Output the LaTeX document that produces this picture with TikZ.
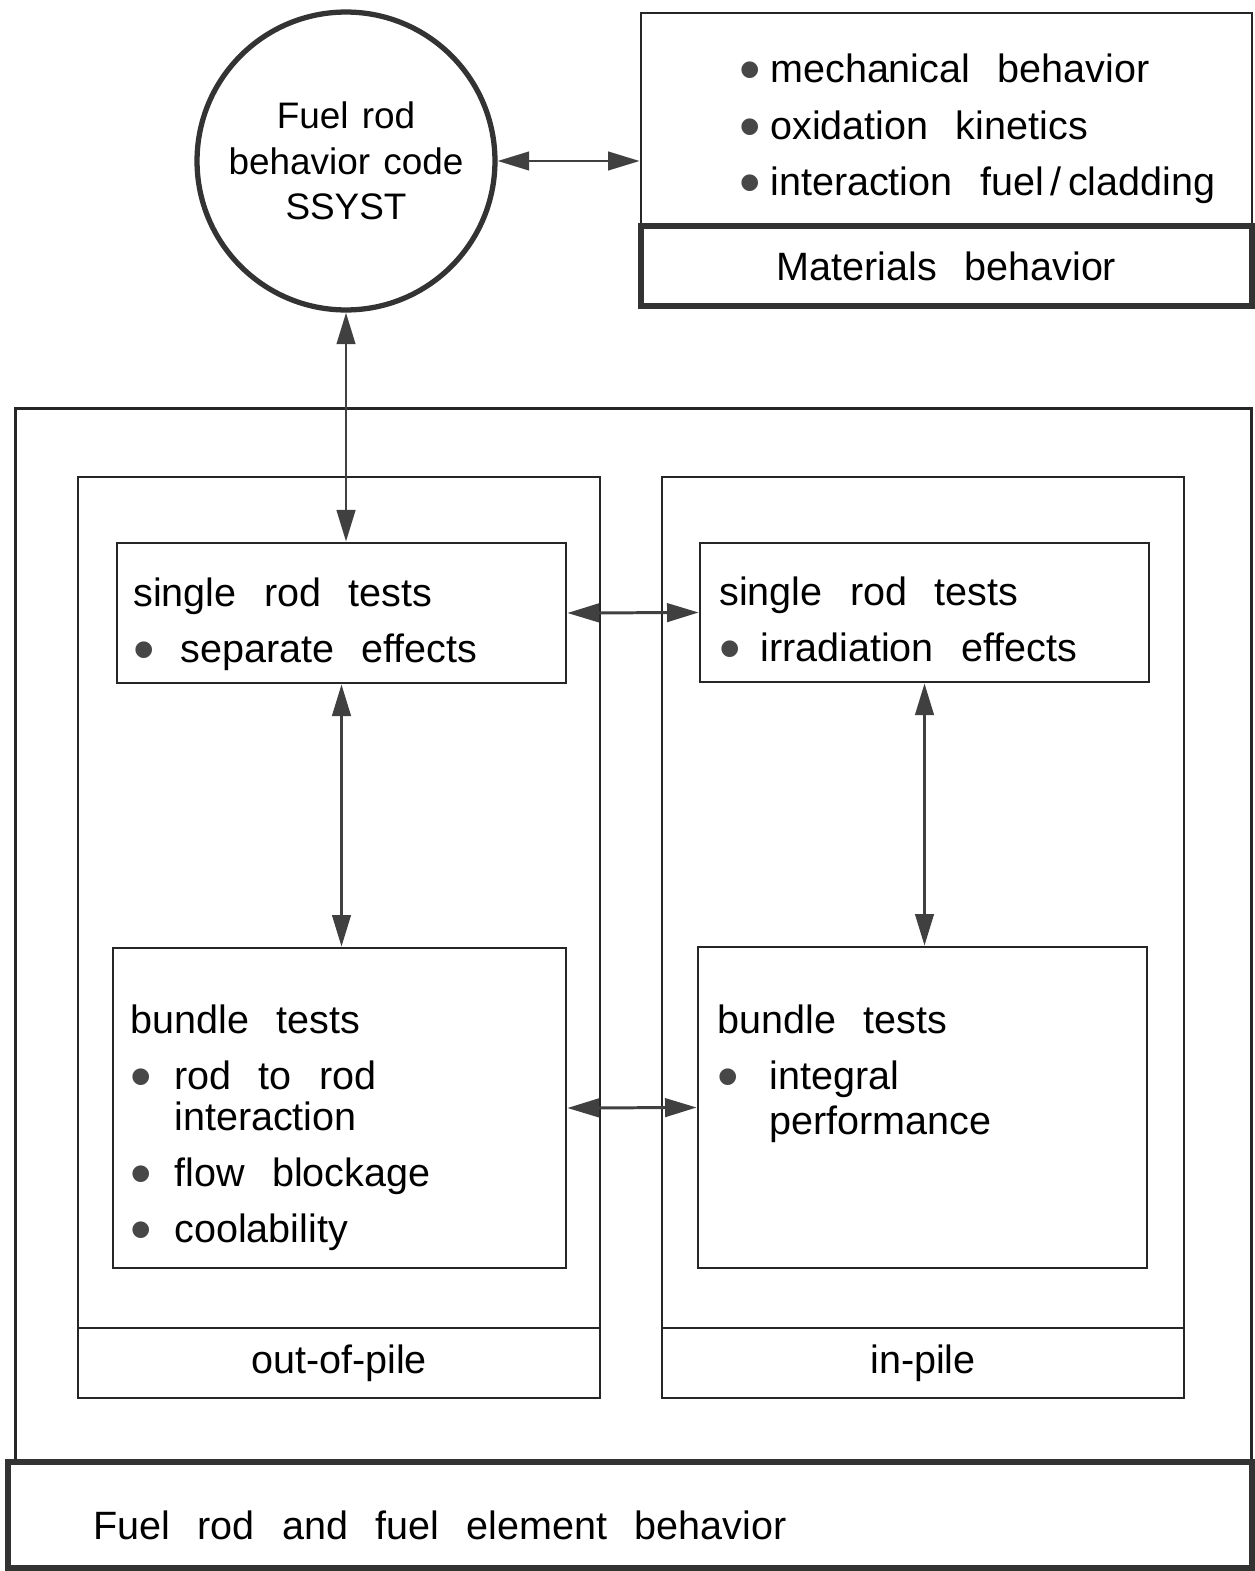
\documentclass[tikz,border=0pt]{standalone}
\usepackage{fontspec}
\setmainfont{Liberation Sans}[WordSpace=2.5]
\newfontfamily\codefont{Liberation Sans}[WordSpace=1.3]
\usetikzlibrary{arrows.meta}

% big round bullet, and bullet item with a hanging indent
\newcommand{\blt}{\smash{\raisebox{-0.2em}{\textcolor{black!72}{\scalebox{1.55}{\textbullet}}}}}
\newcommand{\itm}[2][0.9cm]{\makebox[#1][l]{\blt}#2}

\begin{document}
\begin{tikzpicture}[x=0.02cm, y=-0.02cm,
  panel/.style={draw=black!85, line width=1.6pt, inner sep=0pt},
  band/.style={draw=black!80, line width=3.2pt, inner sep=0pt},
  txt/.style={inner sep=0pt, anchor=west, align=left, font=\fontsize{22.5}{32}\selectfont},
  link/.style={{Triangle[length=18pt,width=10.5pt]}-{Triangle[length=18pt,width=10.5pt]}, line width=1.7pt, draw=black!75}]

\useasboundingbox (0,0) rectangle (1254,1571);

%--- Code and materials ---
\node[draw=black!80, line width=3pt, circle, minimum size=5.96cm, inner sep=0pt,
      align=center, font=\codefont\fontsize{21}{26}\selectfont] (code) at (346,161)
  {Fuel rod\\ behavior code\\ SSYST};

\node[panel, minimum width=12.22cm, minimum height=4.24cm] (mat) at (946.5,119) {};
\node[band, minimum width=12.22cm, minimum height=1.6cm, font=\fontsize{22.5}{32}\selectfont] (matband) at (946.5,266)
  {Materials behavior\hspace{0.3cm}};
\node[txt] (matlist) at (739,129)
  {\itm[0.62cm]{mechanical behavior}\\ \itm[0.62cm]{oxidation kinetics}\\ \itm[0.62cm]{interaction fuel\,/\,cladding}};

%--- Fuel rod and fuel element behavior ---
\node[panel, minimum width=24.74cm, minimum height=21.08cm] (outer) at (633.5,935) {};
\node[band, minimum width=24.88cm, minimum height=2.12cm] (elband) at (630,1515) {};
\node[txt] (ellbl) at (93,1525) {Fuel rod and fuel element behavior};

% Out-of-pile column
\node[panel, minimum width=10.44cm, minimum height=17.02cm] (lcol) at (339,902.5) {};
\node[panel, minimum width=10.44cm, minimum height=1.4cm, font=\fontsize{22.5}{32}\selectfont] (lpile) at (339,1363) {out-of-pile};

% In-pile column
\node[panel, minimum width=10.44cm, minimum height=17.02cm] (rcol) at (923,902.5) {};
\node[panel, minimum width=10.44cm, minimum height=1.4cm, font=\fontsize{22.5}{32}\selectfont] (rpile) at (923,1363) {in-pile};

% Test boxes
\node[panel, minimum width=8.98cm, minimum height=2.8cm] (sepsingle) at (341.5,613) {};
\node[txt] (septxt) at (133,624) {single rod tests\\ \itm[0.94cm]{separate effects}};

\node[panel, minimum width=8.98cm, minimum height=2.78cm] (irrsingle) at (924.5,612.5) {};
\node[txt] (irrtxt) at (719,619) {single rod tests\\ \itm[0.82cm]{irradiation effects}};

\node[panel, minimum width=9.06cm, minimum height=6.4cm] (outbundle) at (339.5,1108) {};
\node[txt] (outtxt) at (130,1128)
  {bundle tests\\ \itm[0.88cm]{rod to rod}\\[-8.8pt] \hspace*{0.88cm}interaction\\
   \itm[0.88cm]{flow blockage}\\ \itm[0.88cm]{coolability}};

\node[panel, minimum width=8.98cm, minimum height=6.42cm] (inbundle) at (922.5,1107.5) {};
\node[txt] (intxt) at (717,1074)
  {bundle tests\\ \itm[1.04cm]{integral}\\[-6.5pt] \hspace*{1.04cm}performance};

%--- Connectors ---
\draw[link] (code.east) -- (code.east -| mat.west);
\draw[link] (code.south) -- (code.south |- sepsingle.north);
\draw[link] (sepsingle.east) -- (irrsingle.west);
\draw[link] (sepsingle.south) -- (sepsingle.south |- outbundle.north);
\draw[link] (irrsingle.south) -- (irrsingle.south |- inbundle.north);
\draw[link] (outbundle.east) -- (inbundle.west);

\end{tikzpicture}
\end{document}
